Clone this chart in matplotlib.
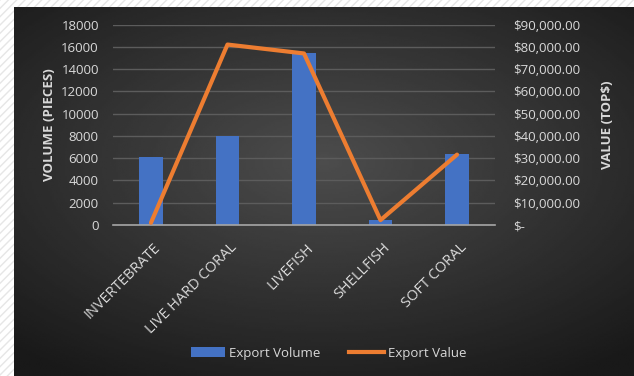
import numpy as np
import matplotlib.pyplot as plt
from matplotlib.patches import Rectangle, Patch
from matplotlib.lines import Line2D
from matplotlib.ticker import FuncFormatter
import matplotlib.transforms as mtransforms

categories = ["INVERTEBRATE", "LIVE HARD CORAL", "LIVEFISH", "SHELLFISH", "SOFT CORAL"]
volume = [6100, 8000, 15400, 450, 6400]
value = [1000, 81000, 77000, 2200, 31600]

plt.rcParams['font.family'] = ['Open Sans', 'DejaVu Sans']
txt = '#d9d9d9'

fig = plt.figure(figsize=(6.34, 3.76), dpi=100, facecolor='white')

# page strip on the left and top
fig.patches.append(Rectangle((0, 0), 1, 1, transform=fig.transFigure,
                             facecolor='white', edgecolor='#e6e6e6',
                             hatch='////', linewidth=0, zorder=-10))

# dark radial gradient chart background
bg = fig.add_axes([14/634, 0, 620/634, 369/376], zorder=-5)
yy, xx = np.mgrid[0:1:200j, 0:1:300j]
r = np.sqrt(((xx - 0.5) * 1.0) ** 2 + ((yy - 0.42) * 1.1) ** 2)
shade = 0.30 - 0.20 * np.clip(r / 0.75, 0, 1)
bg.imshow(shade, cmap='gray', vmin=0, vmax=1, aspect='auto', extent=[0, 1, 0, 1])
bg.set_axis_off()

ax = fig.add_axes([112.7/634, 1 - 225/376, 382.6/634, 200.5/376])
ax.set_facecolor('none')
x = np.arange(len(categories))
ax.bar(x, volume, width=0.31, color='#4472c4', zorder=3)
ax.set_xlim(-0.5, len(categories) - 0.5)
ax.set_ylim(0, 18000)
ax.set_yticks(range(0, 18001, 2000))
ax.yaxis.grid(True, color='#5c5c5c', linewidth=1)
ax.set_axisbelow(True)
for s in ['top', 'right', 'left']:
    ax.spines[s].set_visible(False)
ax.spines['bottom'].set_color('#a6a6a6')
ax.spines['bottom'].set_linewidth(1.2)
ax.spines['bottom'].set_zorder(4)
ax.tick_params(axis='both', length=0, colors=txt, labelsize=9.5)
ax.tick_params(axis='y', pad=10)
ax.set_xticks(x)
ax.set_xticklabels(categories, rotation=45, ha='right', rotation_mode='anchor', fontsize=10.5)
ax.tick_params(axis='x', pad=11)
shift = mtransforms.ScaledTranslation(2/100, 0, fig.dpi_scale_trans)
for lab in ax.get_xticklabels():
    lab.set_transform(lab.get_transform() + shift)
ax.set_ylabel("VOLUME (PIECES)", color=txt, fontweight='bold', fontsize=9.5, labelpad=4)

ax2 = ax.twinx()
ax2.plot(x, value, color='#ed7d31', linewidth=3, zorder=5, solid_capstyle='round')
ax2.set_ylim(0, 90000)
ax2.set_yticks(range(0, 90001, 10000))
ax2.yaxis.set_major_formatter(FuncFormatter(lambda v, p: "$-" if v == 0 else "${:,.2f}".format(v)))
for s in ax2.spines.values():
    s.set_visible(False)
ax2.tick_params(axis='y', length=0, colors=txt, labelsize=9.5, pad=13)
ax2.set_ylabel("VALUE (TOP$)", color=txt, fontweight='bold', fontsize=9.5, labelpad=15)

handles = [Patch(facecolor='#4472c4'), Line2D([0], [0], color='#ed7d31', linewidth=3)]
fig.legend(handles, ["Export Volume", "Export Value"], loc='center',
           bbox_to_anchor=(0.518, 0.061), ncol=2, frameon=False,
           labelcolor=txt, fontsize=9.5, handlelength=2.6, handletextpad=0.3,
           columnspacing=2.2)

fig.savefig("out.png", dpi=100)
